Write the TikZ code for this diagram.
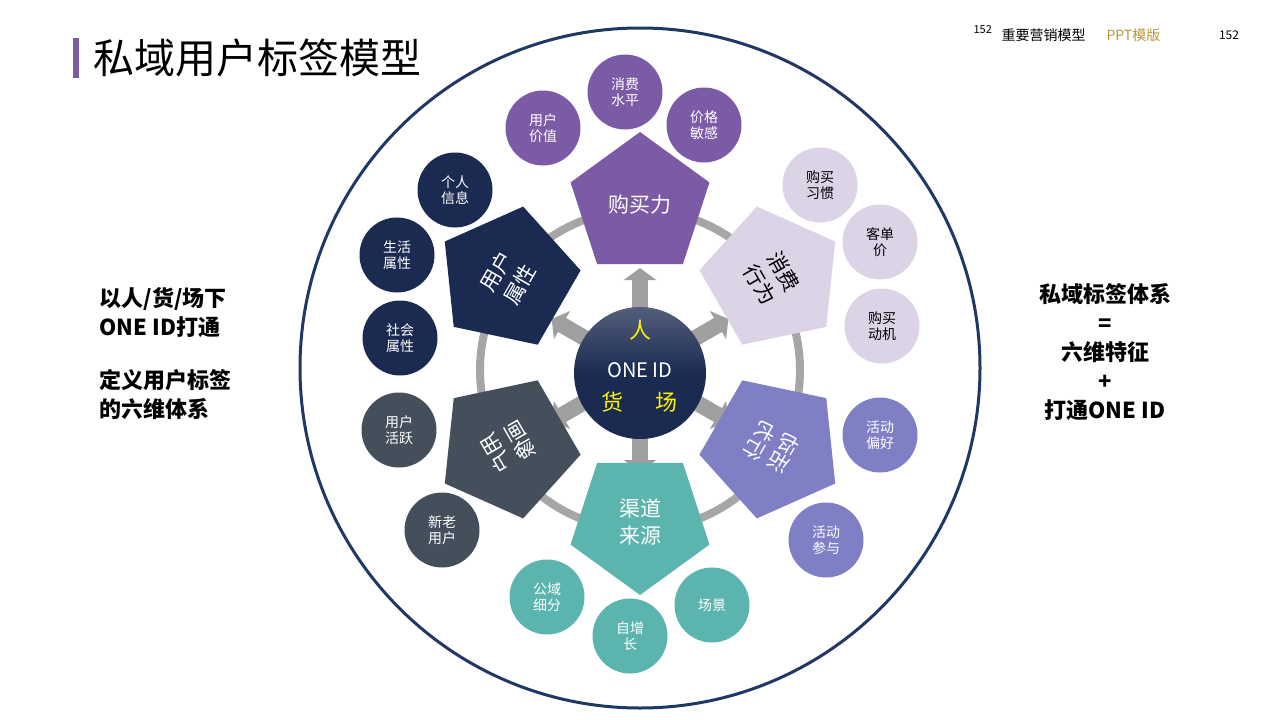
\documentclass[tikz,border=0pt]{standalone}
\usepackage{fontspec}
\setmainfont{Noto Sans CJK SC}
\usetikzlibrary{shapes.geometric,arrows.meta,calc}
\definecolor{cpurple}{HTML}{7B5AA6}
\definecolor{clav}{HTML}{DCD3E6}
\definecolor{cblue}{HTML}{7F7FC6}
\definecolor{cteal}{HTML}{5BB5AE}
\definecolor{cslate}{HTML}{454F5C}
\definecolor{cnavy}{HTML}{1A2A50}
\definecolor{cring}{HTML}{1F3864}
\definecolor{cgold}{HTML}{B8963E}
\tikzset{
  pent/.style={regular polygon,regular polygon sides=5,minimum size=146pt,inner sep=0pt},
  sat/.style={circle,minimum size=75pt,inner sep=0pt,align=center,font=\fontsize{14}{16}\selectfont,text=white},
  ptext/.style={align=center,inner sep=0pt,font=\fontsize{21}{27}\selectfont,text=white},
  blk/.style={draw=gray!75,line width=16pt,-{Triangle[width=32pt,length=12pt]}},
  side/.style={align=center,font=\bfseries\fontsize{22}{29}\selectfont}
}
\begin{document}
\begin{tikzpicture}[x=1pt,y=-1pt]
\useasboundingbox (0,0) rectangle (1280,720);
\fill[white] (0,0) rectangle (1280,720);
% title
\fill[cpurple] (73,38) rectangle (79,78);
\node[anchor=west,font=\fontsize{41}{43}\selectfont] (title) at (90,58) {私域用户标签模型};
\node[anchor=west,font=\fontsize{11}{12}\selectfont] (pn) at (970,30) {152};
\node[anchor=west,font=\fontsize{14}{16}\selectfont] (hd) at (998,35) {重要营销模型};
\node[anchor=west,font=\fontsize{14}{16}\selectfont,text=cgold] (hd2) at (1103,35) {PPT模版};
\node[font=\fontsize{12}{14}\selectfont] (pn2) at (1229,35) {152};
% big ring
\draw[cring,line width=3pt] (640,368) circle[radius=340];
\draw[gray!70,line width=8pt] (640,370) circle[radius=160];
% arrows
\coordinate (c) at (640,370);
\foreach \a in {90,30,-30,-90,-150,150}{
  \draw[blk] ($(c)+(\a:55)$) -- ($(c)+(\a:102)$);
}
% pentagons
\node[pent,fill=cpurple,shape border rotate=0] (p1) at (640,205) {};
\node[ptext] (t1) at (p1) {购买力};
\node[pent,fill=clav,shape border rotate=-60] (p2) at (772,278) {};
\node[ptext,text=black,rotate=-60] (t2) at (p2) {消费\\行为};
\node[pent,fill=cblue,shape border rotate=-120] (p3) at (772,447) {};
\node[ptext,rotate=-120,xscale=-1] (t3) at (p3) {活动\\行为};
\node[pent,fill=cteal,shape border rotate=180] (p4) at (640,522) {};
\node[ptext] (t4) at (p4) {渠道\\来源};
\node[pent,fill=cslate,shape border rotate=120] (p5) at (508,447) {};
\node[ptext,rotate=120,xscale=-1] (t5) at (p5) {用户\\画像};
\node[pent,fill=cnavy,shape border rotate=60] (p6) at (508,278) {};
\node[ptext,rotate=60] (t6) at (p6) {用户\\属性};
% center
\node[circle,minimum size=132pt,top color=cnavy!75!white,bottom color=cnavy,middle color=cnavy] (ctr) at (640,373) {};
\node[text=yellow,font=\fontsize{22}{24}\selectfont] (ren) at (640,330) {人};
\node[text=white,font=\fontsize{20}{22}\selectfont] (oid) at (640,370) {ONE ID};
\node[text=yellow,font=\fontsize{22}{24}\selectfont] (huo) at (612,402) {货};
\node[text=yellow,font=\fontsize{22}{24}\selectfont] (chang) at (666,402) {场};
% satellites
\node[sat,fill=cpurple] (s1) at (543,128) {用户\\价值};
\node[sat,fill=cpurple] (s2) at (625,92) {消费\\水平};
\node[sat,fill=cpurple] (s3) at (704,125) {价格\\敏感};
\node[sat,fill=clav,text=black] (s4) at (820,185) {购买\\习惯};
\node[sat,fill=clav,text=black] (s5) at (880,242) {客单\\价};
\node[sat,fill=clav,text=black] (s6) at (882,326) {购买\\动机};
\node[sat,fill=cblue] (s7) at (880,435) {活动\\偏好};
\node[sat,fill=cblue] (s8) at (826,540) {活动\\参与};
\node[sat,fill=cteal] (s9) at (547,597) {公域\\细分};
\node[sat,fill=cteal] (s10) at (630,636) {自增\\长};
\node[sat,fill=cteal] (s11) at (712,605) {场景};
\node[sat,fill=cslate] (s12) at (399,430) {用户\\活跃};
\node[sat,fill=cslate] (s13) at (442,530) {新老\\用户};
\node[sat,fill=cnavy] (s14) at (455,190) {个人\\信息};
\node[sat,fill=cnavy] (s15) at (397,255) {生活\\属性};
\node[sat,fill=cnavy] (s16) at (400,338) {社会\\属性};
% side texts
\node[side,align=left,anchor=north west] (lt) at (96,284) {以人/货/场下\\ONE ID打通\\[1.1em]定义用户标签\\的六维体系};
\node[side,anchor=north] (rt) at (1105,280) {私域标签体系\\=\\六维特征\\+\\打通ONE ID};
\end{tikzpicture}
\end{document}
